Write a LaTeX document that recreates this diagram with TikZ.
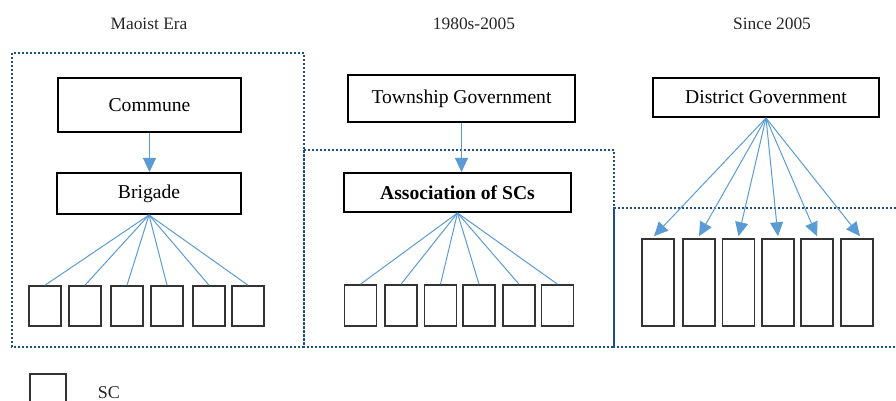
\documentclass[tikz,border=0pt]{standalone}
\usepackage{fontspec}
\setmainfont{Liberation Serif}
\usepackage{tikz}
\usetikzlibrary{positioning, arrows.meta}

\definecolor{fanblue}{RGB}{91,155,213}
\definecolor{frameblue}{RGB}{31,78,135}

\begin{document}
\begin{tikzpicture}[x=0.5pt,y=-0.5pt,
    govbox/.style={draw=black, line width=1pt, inner sep=0pt, font=\fontsize{9.8}{12}\selectfont},
    scbox/.style={draw=black!80, line width=0.8pt, inner sep=0pt, minimum width=16pt},
    era/.style={font=\fontsize{8.7}{10}\selectfont, text=black!85},
    fan/.style={draw=fanblue, line width=0.5pt},
    tip/.style={-{Triangle[length=7pt,width=6.5pt]}},
    frame/.style={draw=frameblue, line width=1.25pt, dash pattern=on 1pt off 1pt}]
            \clip (0,0) rectangle (896,401);
            % era titles
            \node [era] (t_mao) at (149,24) {Maoist Era};
            \node [era] (t_reform) at (474,24) {1980s-2005};
            \node [era] (t_now) at (772,24) {Since 2005};
            % dotted frames
            \draw [frame] (12,53) rectangle (304,347);
            \draw [frame] (304,150) rectangle (614,347);
            \draw [frame] (896,208) -- (614,208) -- (614,347) -- (896,347);
            % Maoist era
            \node [govbox, minimum width=91.5pt, minimum height=27pt] (commune) at (149.5,105) {Commune};
            \node [govbox, minimum width=92pt, minimum height=20.5pt] (brigade) at (149,193.5) {Brigade};
            \draw [fan, tip] (commune.south) -- (commune.south |- brigade.north);
            \foreach \i/\x in {1/45,2/85,3/127,4/167,5/209,6/248} {
                \node [scbox, minimum height=20pt] (sa\i) at (\x,306) {};
                \draw [fan] (brigade.south) -- (sa\i.north);
            }
            % 1980s-2005
            \node [govbox, minimum width=113.5pt, minimum height=23.5pt] (township) at (461.5,98.5) {Township Government};
            \node [govbox, minimum width=113.5pt, minimum height=19.5pt] (assoc) at (457.5,192.5) {\textbf{Association of SCs}};
            \draw [fan, tip] (township.south) -- (township.south |- assoc.north);
            \foreach \i/\x in {1/360.5,2/401,3/440.5,4/479,5/519,6/557.5} {
                \node [scbox, minimum height=20.5pt] (sb\i) at (\x,305.5) {};
                \draw [fan] (assoc.south) -- (sb\i.north);
            }
            % since 2005
            \node [govbox, minimum width=113pt, minimum height=19.5pt] (district) at (766,97.5) {District Government};
            \foreach \i/\x/\a in {1/658/-4,2/699/0,3/738.5/0,4/778/0,5/817/0,6/857/3} {
                \node [scbox, minimum height=43.5pt] (sc\i) at (\x,282.5) {};
                \draw [fan, tip] (district.south) -- ([xshift=\a*0.5pt, yshift=1pt]sc\i.north);
            }
            % legend
            \node [scbox, minimum width=18pt, minimum height=16pt] (legend) at (48,390) {};
            \node [era, font=\fontsize{9}{10}\selectfont, right=12pt of legend, yshift=-1.5pt] (legendtext) {SC};
\end{tikzpicture}
\end{document}
